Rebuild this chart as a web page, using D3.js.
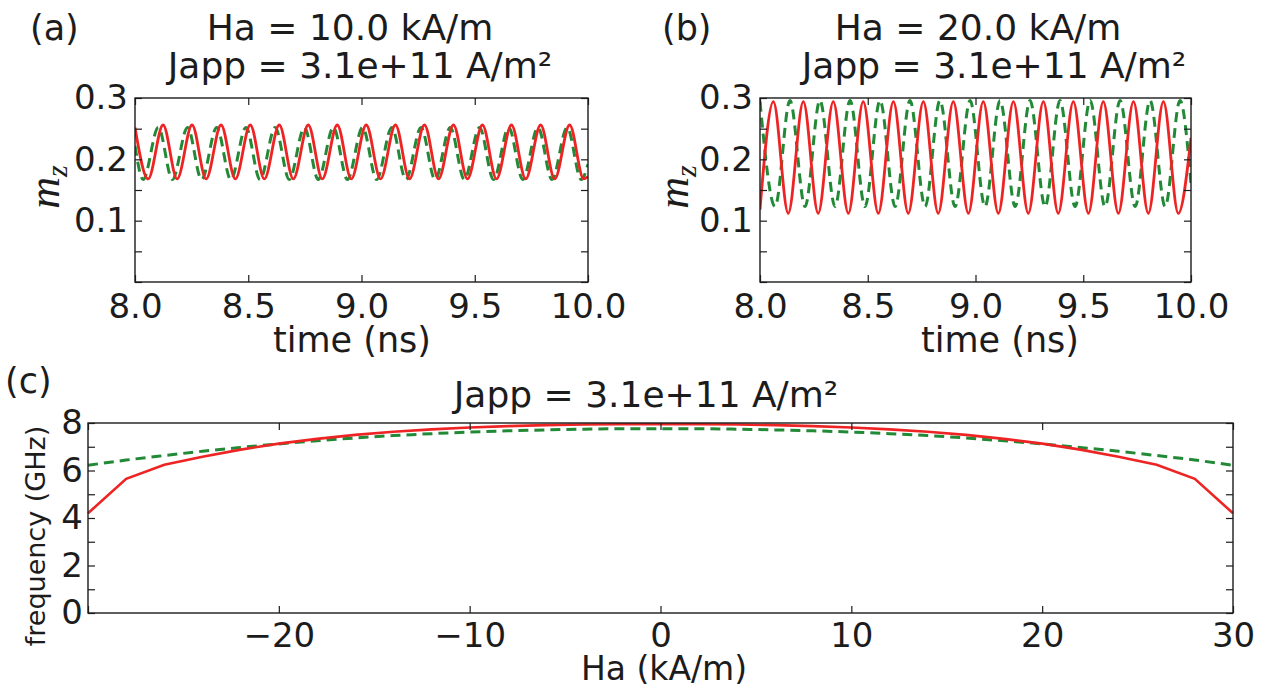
<!DOCTYPE html>
<html><head><meta charset="utf-8">
<script src="https://cdn.jsdelivr.net/npm/d3@7"></script>
<style>body{margin:0;background:#fff}svg{display:block}</style>
</head><body>
<svg id="chart" width="1288" height="690"></svg>
<script>
// ---------- data ----------
const timeTicks = [8.0, 8.5, 9.0, 9.5, 10.0];
const mzTicks = [0, 0.05, 0.1, 0.15, 0.2, 0.25, 0.3];
const mzLabels = [0.1, 0.2, 0.3];
const haTicks = [-30, -20, -10, 0, 10, 20, 30];
const haLabels = [-20, -10, 0, 10, 20, 30];
const freqTicks = [0, 1, 2, 3, 4, 5, 6, 7, 8];
const freqLabels = [0, 2, 4, 6, 8];

// panel (a): Ha = 10 kA/m  (extrema of m_z)
const aRedT = [8.000, 8.058, 8.124, 8.186, 8.252, 8.314, 8.380, 8.443, 8.509, 8.571, 8.637, 8.699, 8.765, 8.827, 8.893, 8.955, 9.021, 9.084, 9.150, 9.212, 9.278, 9.340, 9.406, 9.468, 9.534, 9.596, 9.662, 9.725, 9.791, 9.853, 9.919, 9.981, 10.000];
const aRedV = [0.252, 0.168, 0.256, 0.168, 0.256, 0.168, 0.256, 0.168, 0.256, 0.168, 0.256, 0.168, 0.256, 0.168, 0.256, 0.168, 0.256, 0.168, 0.256, 0.168, 0.256, 0.168, 0.256, 0.168, 0.256, 0.168, 0.256, 0.168, 0.256, 0.168, 0.256, 0.168, 0.172];
const aGreenT = [8.000, 8.036, 8.103, 8.165, 8.232, 8.294, 8.361, 8.423, 8.490, 8.552, 8.619, 8.681, 8.748, 8.809, 8.876, 8.938, 9.005, 9.067, 9.134, 9.196, 9.263, 9.325, 9.392, 9.454, 9.521, 9.583, 9.650, 9.712, 9.779, 9.841, 9.908, 9.970, 10.000];
const aGreenV = [0.222, 0.167, 0.252, 0.167, 0.252, 0.167, 0.252, 0.167, 0.252, 0.167, 0.252, 0.167, 0.252, 0.167, 0.252, 0.167, 0.252, 0.167, 0.252, 0.167, 0.252, 0.167, 0.252, 0.167, 0.252, 0.167, 0.252, 0.167, 0.252, 0.167, 0.252, 0.167, 0.192];

// panel (b): Ha = 20 kA/m
const bRedT = [8.000, 8.062, 8.131, 8.201, 8.270, 8.340, 8.410, 8.479, 8.549, 8.619, 8.688, 8.758, 8.827, 8.897, 8.967, 9.036, 9.106, 9.176, 9.245, 9.315, 9.384, 9.454, 9.524, 9.593, 9.663, 9.733, 9.802, 9.872, 9.941, 10.000];
const bRedV = [0.118, 0.294, 0.112, 0.294, 0.112, 0.294, 0.112, 0.294, 0.112, 0.294, 0.112, 0.294, 0.112, 0.294, 0.112, 0.294, 0.112, 0.294, 0.112, 0.294, 0.112, 0.294, 0.112, 0.294, 0.112, 0.294, 0.112, 0.294, 0.112, 0.235];
const bGreenT = [8.000, 8.070, 8.139, 8.209, 8.278, 8.348, 8.418, 8.487, 8.557, 8.627, 8.696, 8.766, 8.835, 8.905, 8.975, 9.044, 9.114, 9.184, 9.253, 9.323, 9.392, 9.462, 9.532, 9.601, 9.671, 9.741, 9.810, 9.880, 9.949, 10.000];
const bGreenV = [0.294, 0.123, 0.296, 0.123, 0.296, 0.123, 0.296, 0.123, 0.296, 0.123, 0.296, 0.123, 0.296, 0.123, 0.296, 0.123, 0.296, 0.123, 0.296, 0.123, 0.296, 0.123, 0.296, 0.123, 0.296, 0.123, 0.296, 0.123, 0.296, 0.160];

// panel (c): frequency vs Ha
const haValues = [-30, -28, -26, -24, -22, -20, -18, -16, -14, -12, -10, -8, -6, -4, -2, 0, 2, 4, 6, 8, 10, 12, 14, 16, 18, 20, 22, 24, 26, 28, 30];
const freqRed = [4.20, 5.65, 6.24, 6.58, 6.88, 7.13, 7.33, 7.50, 7.63, 7.73, 7.81, 7.87, 7.91, 7.94, 7.95, 7.95, 7.95, 7.94, 7.91, 7.87, 7.81, 7.73, 7.63, 7.50, 7.33, 7.13, 6.88, 6.58, 6.24, 5.65, 4.20];
const freqGreen = [6.22, 6.44, 6.63, 6.81, 6.97, 7.12, 7.25, 7.37, 7.47, 7.55, 7.62, 7.67, 7.71, 7.74, 7.76, 7.76, 7.76, 7.74, 7.71, 7.67, 7.62, 7.55, 7.47, 7.37, 7.25, 7.12, 6.97, 6.81, 6.63, 6.44, 6.22];

// ---------- style ----------
const RED = "#ee2424", GREEN = "#228a36", INK = "#1c1c1c", FONT = "DejaVu Sans";
const svg = d3.select("#chart");

function frame(g, x, y, xt, xl, yt, yl, fx, fy, o) {
  const [x0, x1] = x.range(), [y0, y1] = y.range();
  const tl = 7;
  const bottom = g.append("g").attr("transform", `translate(0,${y0})`)
    .call(d3.axisBottom(x).tickValues(xt).tickSize(-tl).tickSizeOuter(0).tickPadding(o.xpad)
      .tickFormat(d => xl.includes(d) ? fx(d) : ""));
  const top = g.append("g").attr("transform", `translate(0,${y1})`)
    .call(d3.axisTop(x).tickValues(xt).tickSize(-tl).tickSizeOuter(0).tickFormat(""));
  const left = g.append("g").attr("transform", `translate(${x0},0)`)
    .call(d3.axisLeft(y).tickValues(yt).tickSize(-tl).tickSizeOuter(0).tickPadding(o.ypad)
      .tickFormat(d => yl.some(v => Math.abs(v - d) < 1e-9) ? fy(d) : ""));
  const right = g.append("g").attr("transform", `translate(${x1},0)`)
    .call(d3.axisRight(y).tickValues(yt).tickSize(-tl).tickSizeOuter(0).tickFormat(""));
  [bottom, top, left, right].forEach(a => {
    a.select(".domain").remove();
    a.selectAll("line").attr("stroke", INK).attr("stroke-width", 1.2);
    a.selectAll("text").attr("fill", INK).attr("font-family", FONT).attr("font-size", o.fs);
  });
  g.append("rect").attr("x", x0).attr("y", y1).attr("width", x1 - x0).attr("height", y0 - y1)
    .attr("fill", "none").attr("stroke", INK).attr("stroke-width", 1.4);
}

function curve(g, x, y, T, V, color, dashed, w, c) {
  const pts = T.map((t, i) => [t, V[i]]);
  g.append("path").datum(pts)
    .attr("d", d3.line().x(d => x(d[0])).y(d => y(d[1])).curve(c))
    .attr("fill", "none").attr("stroke", color).attr("stroke-width", w)
    .attr("stroke-dasharray", dashed ? "10,6" : null);
}

function txt(x, y, s, size, anchor) {
  return svg.append("text").attr("x", x).attr("y", y).attr("font-family", FONT)
    .attr("font-size", size).attr("fill", INK).attr("text-anchor", anchor || "middle").text(s);
}

function mzLabel(cx, cy) {
  const t = svg.append("text").attr("transform", `translate(${cx},${cy}) rotate(-90)`)
    .attr("text-anchor", "middle").attr("font-family", "Liberation Serif").attr("font-style", "italic")
    .attr("font-size", 44).attr("fill", INK);
  t.append("tspan").text("m");
  t.append("tspan").attr("font-size", 30).attr("dy", 8).text("z");
}

const fmt1 = d3.format(".1f");

// ---------- panel (a) ----------
{
  const x = d3.scaleLinear().domain([8, 10]).range([135, 588]);
  const y = d3.scaleLinear().domain([0, 0.3]).range([282, 98]);
  const g = svg.append("g");
  svg.append("clipPath").attr("id", "ca").append("rect")
    .attr("x", 135).attr("y", 98).attr("width", 453).attr("height", 184);
  const gc = g.append("g").attr("clip-path", "url(#ca)");
  curve(gc, x, y, aGreenT, aGreenV, GREEN, true, 3, d3.curveMonotoneX);
  curve(gc, x, y, aRedT, aRedV, RED, false, 2.8, d3.curveMonotoneX);
  frame(g, x, y, timeTicks, timeTicks, mzTicks, mzLabels, fmt1, fmt1, {xpad: 12, ypad: 7, fs: 34});
  txt(352, 352, "time (ns)", 35);
  mzLabel(59, 187);
  txt(30, 40, "(a)", 35, "start");
  txt(350, 40, "Ha = 10.0 kA/m", 36);
  txt(360, 78, "Japp = 3.1e+11 A/m²", 36);
}

// ---------- panel (b) ----------
{
  const x = d3.scaleLinear().domain([8, 10]).range([760, 1191]);
  const y = d3.scaleLinear().domain([0, 0.3]).range([282, 98]);
  const g = svg.append("g");
  svg.append("clipPath").attr("id", "cb").append("rect")
    .attr("x", 760).attr("y", 98).attr("width", 431).attr("height", 184);
  const gc = g.append("g").attr("clip-path", "url(#cb)");
  curve(gc, x, y, bGreenT, bGreenV, GREEN, true, 3, d3.curveMonotoneX);
  curve(gc, x, y, bRedT, bRedV, RED, false, 2.8, d3.curveMonotoneX);
  frame(g, x, y, timeTicks, timeTicks, mzTicks, mzLabels, fmt1, fmt1, {xpad: 12, ypad: 7, fs: 34});
  txt(1000, 352, "time (ns)", 35);
  mzLabel(688, 187);
  txt(662, 40, "(b)", 35, "start");
  txt(978, 40, "Ha = 20.0 kA/m", 36);
  txt(994, 78, "Japp = 3.1e+11 A/m²", 36);
}

// ---------- panel (c) ----------
{
  const x = d3.scaleLinear().domain([-30, 30]).range([88, 1233]);
  const y = d3.scaleLinear().domain([0, 8]).range([613, 423]);
  const g = svg.append("g");
  curve(g, x, y, haValues, freqGreen, GREEN, true, 3, d3.curveMonotoneX);
  curve(g, x, y, haValues, freqRed, RED, false, 2.6, d3.curveLinear);
  frame(g, x, y, haTicks, haLabels, freqTicks, freqLabels, d3.format("d"), d3.format("d"), {xpad: 10, ypad: 5, fs: 34});
  txt(664, 680, "Ha (kA/m)", 33);
  txt(0, 0, "frequency (GHz)", 27).attr("x", null).attr("y", null)
    .attr("transform", "translate(45,536) rotate(-90)");
  txt(5, 393, "(c)", 35, "start");
  txt(646, 407, "Japp = 3.1e+11 A/m²", 36);
}
</script>
</body></html>
